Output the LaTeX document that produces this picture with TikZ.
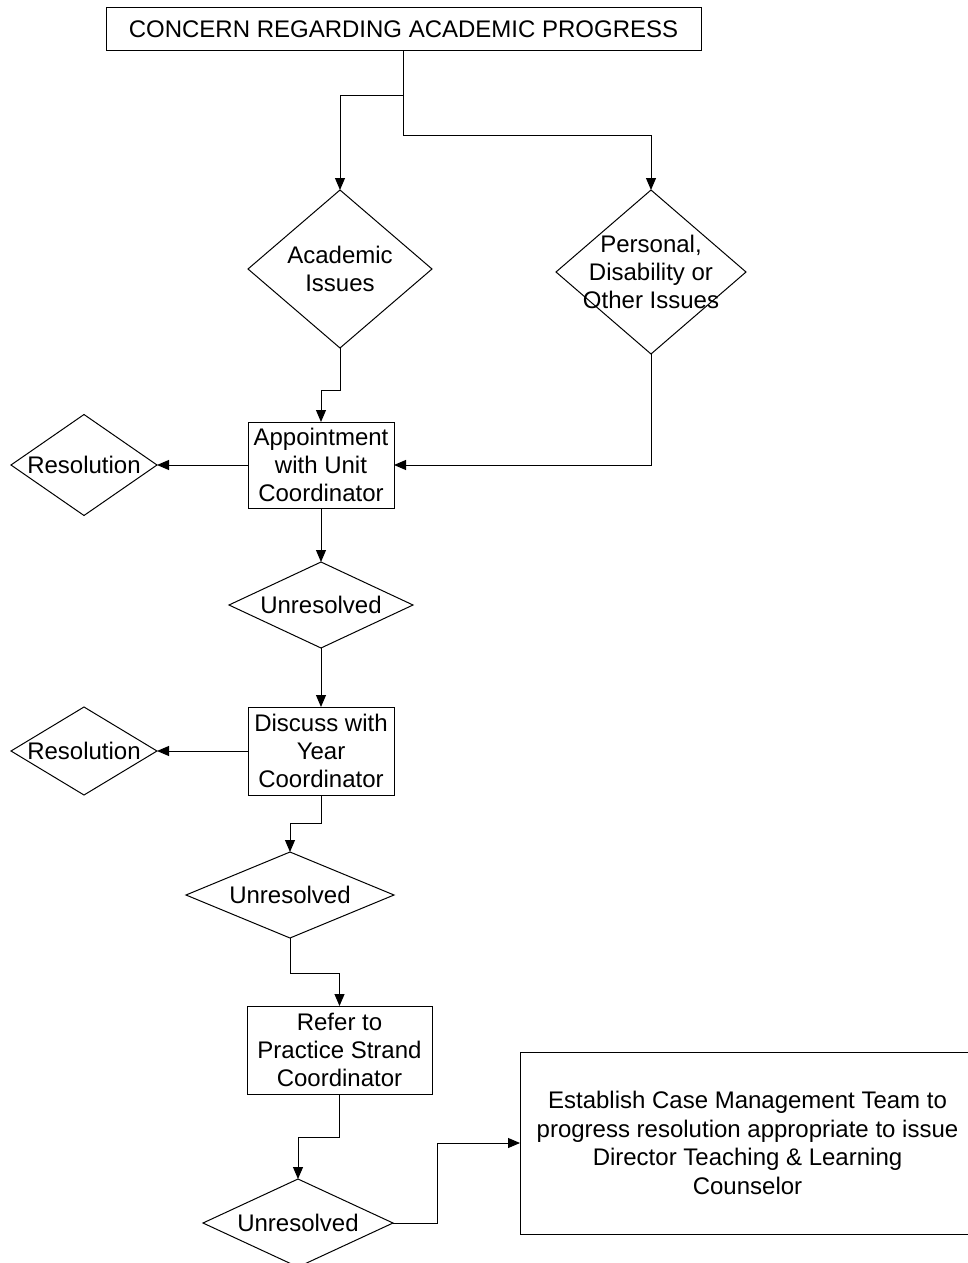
\documentclass[tikz,border=0pt]{standalone}
\usepackage{fontspec}
\setmainfont{Liberation Sans}
\usepackage{tikz}
\usetikzlibrary{arrows.meta,shapes.geometric,positioning,calc}

\begin{document}
\begin{tikzpicture}[
    x=0.5pt, y=-0.5pt,
    font=\fontsize{12}{14.2}\selectfont,
    box/.style={draw, rectangle, align=center, inner sep=1pt, outer sep=0pt, line width=0.5pt},
    decide/.style={draw, diamond, inner sep=0pt, outer sep=0pt, line width=0.5pt},
    arr/.style={-{Triangle[length=6pt,width=5pt]}, line width=0.5pt},
    lbl/.style={align=center, inner sep=0pt}
]
\useasboundingbox (0,0) rectangle (968,1263);

\node[box, minimum width=297.5pt, minimum height=21.5pt] (concern) at (403.5,29) {CONCERN REGARDING ACADEMIC PROGRESS};
\node[decide, minimum width=92pt, minimum height=79pt, label={[lbl]center:Academic\\Issues}] (acad) at (340,269) {};
\node[decide, minimum width=95pt, minimum height=82pt, label={[lbl]center:Personal,\\Disability or\\Other Issues}] (pers) at (651,272) {};
\node[box, minimum width=73pt, minimum height=43pt] (appt) at (321,465) {Appointment\\with Unit\\Coordinator};
\node[decide, minimum width=73pt, minimum height=50.5pt, label={[lbl]center:Resolution}] (res1) at (84,465) {};
\node[decide, minimum width=92pt, minimum height=43pt, label={[lbl]center:Unresolved}] (unres1) at (321,605) {};
\node[box, minimum width=73pt, minimum height=44pt] (disc) at (321,751) {Discuss with\\Year\\Coordinator};
\node[decide, minimum width=73pt, minimum height=44pt, label={[lbl]center:Resolution}] (res2) at (84,751) {};
\node[decide, minimum width=104pt, minimum height=43pt, label={[lbl]center:Unresolved}] (unres2) at (290,895) {};
\node[box, minimum width=92.5pt, minimum height=44pt] (refer) at (339.5,1050) {Refer to\\Practice Strand\\Coordinator};
\node[decide, minimum width=95pt, minimum height=44pt, label={[lbl]center:Unresolved}] (unres3) at (298,1223) {};
\node[box, minimum width=227.5pt, minimum height=91pt] (team) at (747.5,1143) {Establish Case Management Team to\\progress resolution appropriate to issue\\Director Teaching \& Learning\\Counselor};

% connectors
\draw[arr] (concern.south) -- ++(0,45) -| (acad.north);
\draw[arr] (concern.south) -- ++(0,85) -| (pers.north);
\draw[arr] (acad.south) -- ++(0,42) -| (appt.north);
\draw[arr] (pers.south) |- (appt.east);
\draw[arr] (appt.west) -- (res1.east);
\draw[arr] (appt.south) -- (unres1.north);
\draw[arr] (unres1.south) -- (disc.north);
\draw[arr] (disc.west) -- (res2.east);
\draw[arr] (disc.south) -- ++(0,28) -| (unres2.north);
\draw[arr] (unres2.south) -- ++(0,35) -| (refer.north);
\draw[arr] (refer.south) -- ++(0,43) -| (unres3.north);
\draw[arr] (unres3.east) -- ++(44,0) |- (team.west);
\end{tikzpicture}
\end{document}
